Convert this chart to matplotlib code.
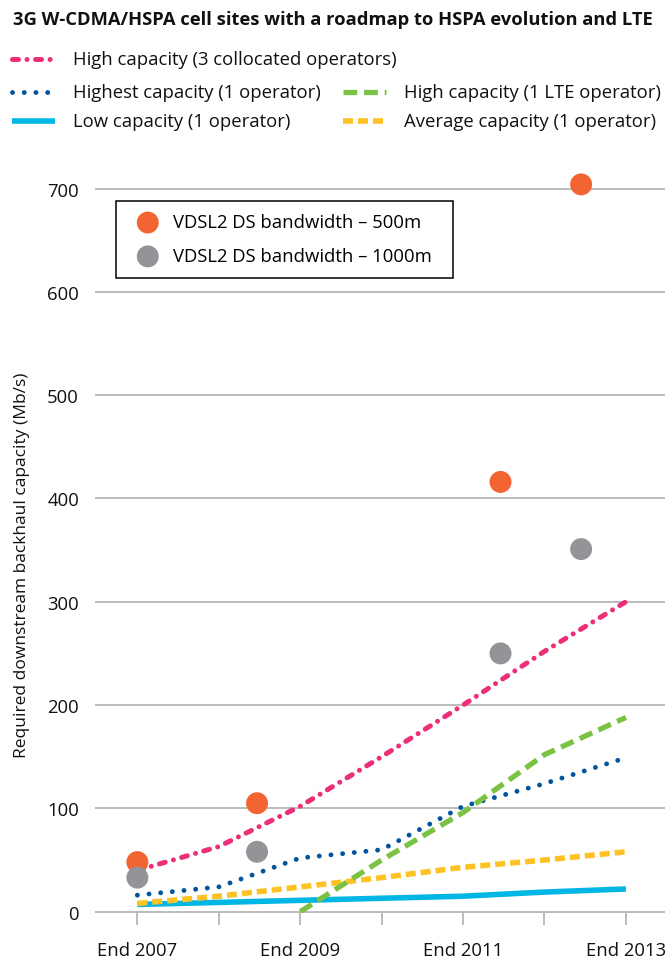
import matplotlib
matplotlib.use("Agg")
import matplotlib.pyplot as plt
from matplotlib.lines import Line2D

plt.rcParams['font.family'] = ['Open Sans', 'DejaVu Sans']

# data
years = [2007, 2008, 2009, 2010, 2011, 2012, 2013]
high_3op = [40, 63, 102, 150, 200, 252, 300]
highest_1op = [16, 24, 52, 60, 102, 124, 149]
lte_years = [2009, 2010, 2011, 2012, 2013]
high_lte = [0, 50, 96, 152, 188]
average_1op = [8, 15, 24, 33, 43, 50, 58]
low_1op = [7, 9, 11, 13, 15, 19, 22]

vdsl_years = [2007, 2008.47, 2011.46, 2012.45]
vdsl_500m = [48, 105, 416, 704]
vdsl_1000m = [33, 58, 250, 351]

tick_years = [2007, 2008, 2009, 2010, 2011, 2012, 2013]
tick_labels = ["End 2007", "", "End 2009", "", "End 2011", "", "End 2013"]
y_ticks = [0, 100, 200, 300, 400, 500, 600, 700]

PINK = '#EC2F78'
BLUE = '#00559E'
GREEN = '#7BC143'
CYAN = '#00B6E4'
YELLOW = '#FFC224'
ORANGE = '#F26532'
GREY = '#949398'
GRID = '#A9A9A9'

W, H = 665, 962
fig = plt.figure(figsize=(W / 100, H / 100), dpi=100)

# pixel helpers for layout
def fx(x):
    return x / W

def fy(y):
    return 1 - y / H

# axes: value 0 at y=912.7 px, 1.0331 px per unit
y0_px, scale = 912.7, 1.0331
ylo, yhi = -1.5, 730
ax_bottom = y0_px - ylo * scale
ax_top = y0_px - yhi * scale
ax = fig.add_axes([fx(95), fy(ax_bottom), fx(665) - fx(95), (ax_bottom - ax_top) / H])

pink_style = dict(color=PINK, lw=3.6, ls=(0, (1.2, 1.7, 0.01, 1.7)), dash_capstyle='round')
blue_style = dict(color=BLUE, lw=3.5, ls=(0, (0.01, 2.4)), dash_capstyle='round')
green_style = dict(color=GREEN, lw=3.8, ls=(0, (2.6, 1.3)))
yellow_style = dict(color=YELLOW, lw=4.0, ls=(0, (1.8, 0.9)))
cyan_style = dict(color=CYAN, lw=4.0, solid_capstyle='butt')

ax.plot(years, low_1op, **cyan_style, zorder=3)
ax.plot(years, average_1op, **yellow_style, zorder=3)
ax.plot(years, highest_1op, **blue_style, zorder=3)
ax.plot(lte_years, high_lte, **green_style, zorder=3)
ax.plot(years, high_3op, **pink_style, zorder=3)

ax.scatter(vdsl_years, vdsl_500m, s=250, color=ORANGE, edgecolors='none', zorder=5,
           clip_on=False, label='VDSL2 DS bandwidth \u2013 500m')
ax.scatter(vdsl_years, vdsl_1000m, s=250, color=GREY, edgecolors='none', zorder=5,
           clip_on=False, label='VDSL2 DS bandwidth \u2013 1000m')

ax.set_xlim(2006.48, 2013.48)
ax.set_ylim(ylo, yhi)
ax.set_xticks(tick_years)
ax.set_xticklabels(tick_labels)
ax.set_yticks(y_ticks)
ax.set_yticklabels([str(v) for v in y_ticks])

for s in ax.spines.values():
    s.set_visible(False)
ax.yaxis.grid(True, color=GRID, lw=1.1)
ax.set_axisbelow(True)
ax.tick_params(axis='x', direction='out', length=8.8, width=1.1, color=GRID,
               labelsize=13.3, pad=11, labelcolor='#111111')
ax.tick_params(axis='y', length=0, labelsize=13.3, pad=11.5, labelcolor='#111111')

leg = ax.legend(loc='upper left', bbox_to_anchor=(fx(116), fy(281), fx(453) - fx(116), fy(202) - fy(281)),
                bbox_transform=fig.transFigure, mode='expand', borderaxespad=0,
                frameon=True, fancybox=False, edgecolor='black', framealpha=1,
                fontsize=13.3, scatterpoints=1, borderpad=0.67, labelspacing=0.86,
                handlelength=2.1, handletextpad=0.3)
leg.get_frame().set_linewidth(1.1)

fig.text(fx(22), fy(565), 'Required downstream backhaul capacity (Mb/s)', rotation=90,
         ha='center', va='center', fontsize=12.5, color='#111111')

fig.text(fx(333), fy(20), '3G W-CDMA/HSPA cell sites with a roadmap to HSPA evolution and LTE',
         ha='center', va='center', fontsize=13.2, fontweight='bold', color='#111111')

# top legend for the lines
top_items = [
    (12, 55, 60, 73, pink_style, 'High capacity (3 collocated operators)'),
    (12, 55, 93, 73, blue_style, 'Highest capacity (1 operator)'),
    (12, 55, 122, 73, cyan_style, 'Low capacity (1 operator)'),
    (343, 386, 93, 404, green_style, 'High capacity (1 LTE operator)'),
    (343, 386, 122, 404, yellow_style, 'Average capacity (1 operator)'),
]
for x0, x1, yy, xt, style, label in top_items:
    fig.add_artist(Line2D([fx(x0), fx(x1)], [fy(yy), fy(yy)], transform=fig.transFigure, **style))
    fig.text(fx(xt), fy(yy), label, ha='left', va='center', fontsize=13.3, color='#111111')

fig.savefig('out.png', dpi=100)
